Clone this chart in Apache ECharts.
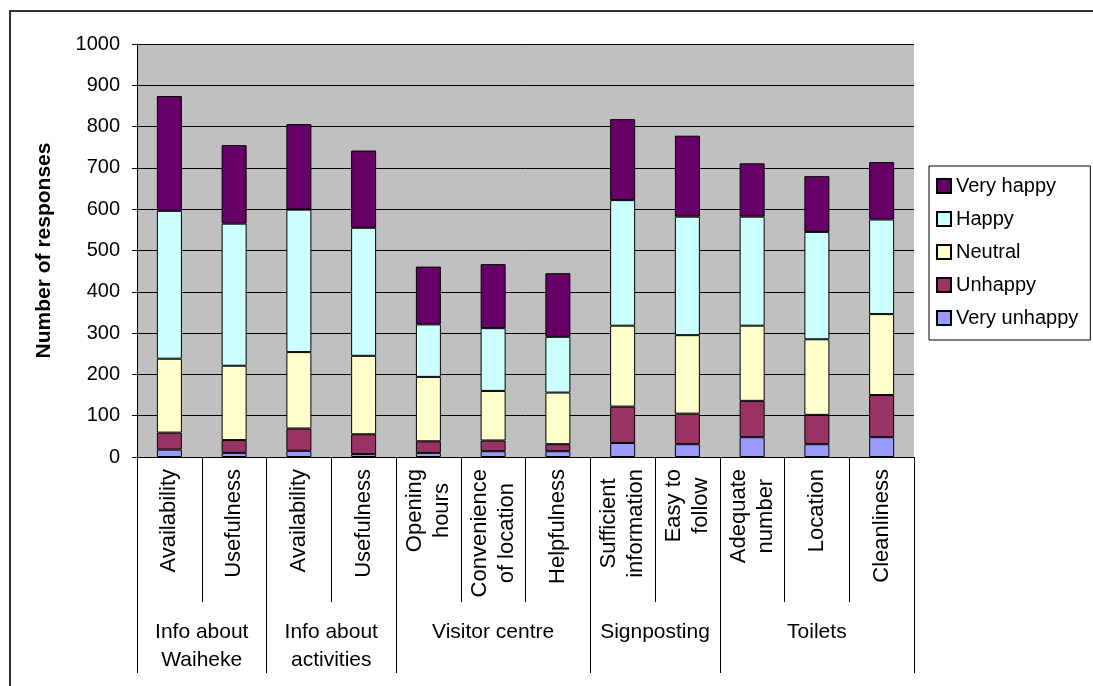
<!DOCTYPE html>
<html>
<head>
<meta charset="utf-8">
<script src="https://cdn.jsdelivr.net/npm/echarts@6/dist/echarts.min.js"></script>
<style>
html,body{margin:0;padding:0;background:#fff;}
#chart{width:1093px;height:686px;}
</style>
</head>
<body>
<div id="chart"></div>
<script>
var categories = ['Availability','Usefulness','Availability','Usefulness','Opening\nhours','Convenience\nof location','Helpfulness','Sufficient\ninformation','Easy to\nfollow','Adequate\nnumber','Location','Cleanliness'];
var groupNames = ['Info about\nWaiheke','Info about\nactivities','Visitor centre','Signposting','Toilets'];
var groupSizes = [2,2,3,2,3];
var yTicks = {min:0, max:1000, interval:100};

var veryUnhappy = [18,10,15,7,10,14,14,34,31,48,31,48];
var unhappy     = [41,31,54,48,28,26,17,88,74,88,71,102];
var neutral     = [179,180,185,190,156,120,125,196,190,182,183,196];
var happy       = [358,344,345,310,127,152,135,304,287,264,260,229];
var veryHappy   = [278,190,207,187,140,155,154,196,196,129,135,139];

var seriesNames = ['Very unhappy','Unhappy','Neutral','Happy','Very happy'];
var seriesData = [veryUnhappy, unhappy, neutral, happy, veryHappy];
var colors = ['#9999FF','#993366','#FFFFCC','#CCFFFF','#660066'];

// group boundaries and centers derived from group sizes
var bounds = [0], centers = [];
groupSizes.forEach(function(s){ var b = bounds[bounds.length-1]; centers.push(b + s/2); bounds.push(b + s); });

var FONT = 'Liberation Sans, Arial, sans-serif';
var chart = echarts.init(document.getElementById('chart'), null, {renderer:'canvas'});
var option = {
  animation:false,
  backgroundColor:'#ffffff',
  textStyle:{fontFamily:FONT, color:'#000'},
  graphic:[{type:'rect', shape:{x:10, y:11, width:1100, height:700}, style:{fill:null, stroke:'#333', lineWidth:2}, silent:true, z:-1}],
  grid:{left:137, top:44, right:179, bottom:229, show:true, backgroundColor:'#C0C0C0', borderWidth:0, containLabel:false},
  legend:{
    orient:'vertical', left:929, top:166,
    data:seriesNames.slice().reverse(),
    backgroundColor:'#fff', borderColor:'#000', borderWidth:1,
    padding:[10,12,12,7],
    itemWidth:14, itemHeight:14, itemGap:13,
    icon:'rect',
    textStyle:{fontSize:20, lineHeight:20, color:'#000', fontFamily:FONT}
  },
  xAxis:[{
    type:'category', data:categories, position:'bottom',
    axisLine:{show:true, lineStyle:{color:'#000', width:1}},
    axisTick:{show:true, length:145, lineStyle:{color:'#000'}},
    axisLabel:{interval:0, rotate:90, margin:12, fontSize:22, lineHeight:27, color:'#000', fontFamily:FONT,
      formatter:function(v){ return v.split('\n').map(function(s){return '{c|'+s+'}';}).join('\n'); },
      rich:{c:{align:'center', fontSize:22, lineHeight:27, fontFamily:FONT, color:'#000'}}
    },
    splitLine:{show:false}
  },{
    type:'value', min:0, max:categories.length, position:'bottom',
    axisLine:{show:false},
    axisTick:{show:true, length:216, customValues:bounds, lineStyle:{color:'#000'}},
    axisLabel:{show:true, customValues:centers, margin:161, fontSize:21, lineHeight:28, color:'#000', fontFamily:FONT,
      formatter:function(v){ var i = centers.indexOf(v); return i>=0 ? groupNames[i] : ''; }
    },
    splitLine:{show:false}
  }],
  yAxis:{
    type:'value', min:yTicks.min, max:yTicks.max, interval:yTicks.interval,
    name:'Number of responses', nameLocation:'middle', nameGap:82,
    nameTextStyle:{fontSize:21, fontWeight:'bold', color:'#000', fontFamily:FONT},
    axisLine:{show:true, lineStyle:{color:'#000'}},
    axisTick:{show:true, length:5, lineStyle:{color:'#000'}},
    axisLabel:{fontSize:20, margin:17, color:'#000', fontFamily:FONT, formatter:function(v){ return String(v); }},
    splitLine:{show:true, lineStyle:{color:'#000', width:1}}
  },
  series:seriesNames.map(function(n,i){
    return {name:n, type:'bar', stack:'total', xAxisIndex:0, barWidth:25,
      data:seriesData[i],
      itemStyle:{color:colors[i], borderColor:'#000', borderWidth:1}};
  })
};
chart.setOption(option);
</script>
</body>
</html>
